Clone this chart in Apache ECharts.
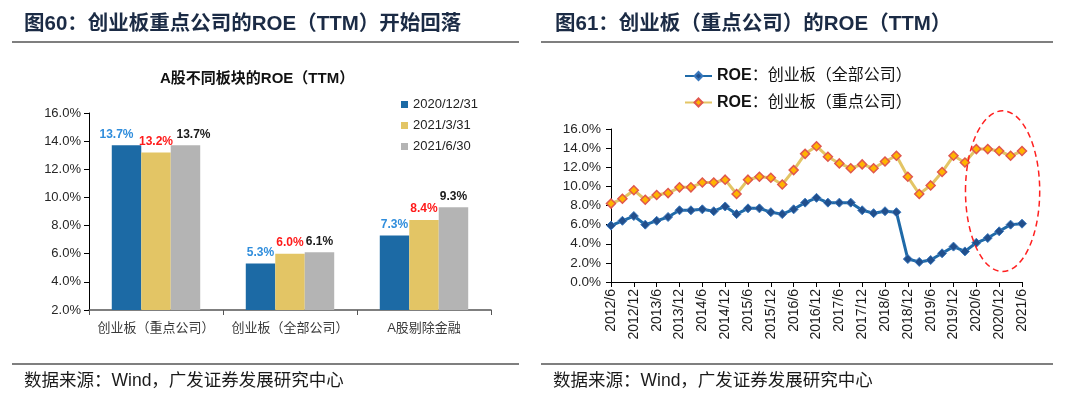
<!DOCTYPE html>
<html><head><meta charset="utf-8">
<script src="https://cdn.jsdelivr.net/npm/echarts@6/dist/echarts.min.js"></script>
<style>html,body{margin:0;padding:0;background:#fff}#c{width:1080px;height:396px}</style>
</head><body><div id="c"></div>
<script>
// ---- data: left bar chart ----
var barCategories = ['创业板（重点公司）', '创业板（全部公司）', 'A股剔除金融'];
var barSeriesNames = ['2020/12/31', '2021/3/31', '2021/6/30'];
var roe_2020_12_31 = [13.7, 5.3, 7.3];
var roe_2021_03_31 = [13.2, 6.0, 8.4];
var roe_2021_06_30 = [13.7, 6.1, 9.3];
var barYTicks = [2, 4, 6, 8, 10, 12, 14, 16];

// ---- data: right line chart ----
var quarters = ['2012/6','2012/9','2012/12','2013/3','2013/6','2013/9','2013/12','2014/3','2014/6','2014/9','2014/12',
  '2015/3','2015/6','2015/9','2015/12','2016/3','2016/6','2016/9','2016/12','2017/3','2017/6','2017/9','2017/12',
  '2018/3','2018/6','2018/9','2018/12','2019/3','2019/6','2019/9','2019/12','2020/3','2020/6','2020/9','2020/12',
  '2021/3','2021/6'];
var lineNameAll = 'ROE：创业板（全部公司）';
var lineNameKey = 'ROE：创业板（重点公司）';
var roeAll = [5.9,6.4,6.9,6.0,6.4,6.8,7.5,7.5,7.6,7.4,7.9,7.1,7.7,7.7,7.3,7.1,7.6,8.3,8.8,8.3,8.3,8.3,7.5,7.2,7.4,7.3,
  2.4,2.1,2.3,3.0,3.7,3.2,4.1,4.6,5.3,6.0,6.1];
var roeKey = [8.2,8.7,9.6,8.6,9.1,9.3,9.9,9.9,10.4,10.4,10.7,9.2,10.7,11.0,10.9,10.2,11.7,13.4,14.2,13.1,12.4,11.9,12.3,
  11.9,12.6,13.2,11.0,9.2,10.1,11.5,13.2,12.5,13.9,13.9,13.7,13.2,13.7];
var lineYTicks = [0, 2, 4, 6, 8, 10, 12, 14, 16];

var FONT = "'Liberation Sans','Noto Sans CJK SC',sans-serif";
var chart = echarts.init(document.getElementById('c'), null, {renderer: 'canvas'});

var barColors = ['#1c6aa5', '#e3c565', '#b4b4b4'];
var barLabelColors = ['#2f8ddc', '#ff1a1a', '#1a1a1a'];
var barLabelShift = [-10, 0, 8];
var barData = [roe_2020_12_31, roe_2021_03_31, roe_2021_06_30];

function pct(v) { return Number(v).toFixed(1) + '%'; }

var series = barData.map(function (arr, si) {
  return {
    type: 'bar', name: barSeriesNames[si], xAxisIndex: 0, yAxisIndex: 0,
    barGap: '0%', barCategoryGap: '34%',
    itemStyle: {color: barColors[si]},
    label: {show: true, position: 'top', distance: 5, fontFamily: FONT, fontSize: 12, fontWeight: 'bold',
      color: barLabelColors[si], formatter: function (p) { return pct(p.value); }},
    data: arr.map(function (v, i) {
      return i === 0 ? {value: v, label: {offset: [barLabelShift[si], 0]}} : v;
    })
  };
});

series.push({
  type: 'line', name: lineNameAll, xAxisIndex: 1, yAxisIndex: 1, data: roeAll,
  symbol: 'diamond', symbolSize: 9, showSymbol: true, showAllSymbol: true,
  lineStyle: {color: '#1f6aa8', width: 3},
  itemStyle: {color: '#214f8c', borderColor: '#3a78bd', borderWidth: 1},
  z: 3
});
series.push({
  type: 'line', name: lineNameKey, xAxisIndex: 1, yAxisIndex: 1, data: roeKey,
  symbol: 'diamond', symbolSize: 9, showSymbol: true, showAllSymbol: true,
  lineStyle: {color: '#e3c565', width: 3},
  itemStyle: {color: '#ffb400', borderColor: '#e0574d', borderWidth: 1.5},
  z: 2
});

var legendRich = {
  b: {fontFamily: FONT, fontSize: 16, fontWeight: 'bold', color: '#111'},
  n: {fontFamily: FONT, fontSize: 16, color: '#111'}
};
function legendFmt(name) { var p = name.split('：'); return '{b|' + p[0] + '}{n|：' + p[1] + '}'; }

var option = {
  animation: false,
  textStyle: {fontFamily: FONT},
  grid: [
    {left: 89, top: 113, width: 402, height: 197, outerBoundsMode: 'none'},
    {left: 611, top: 129, width: 411, height: 153, outerBoundsMode: 'none'}
  ],
  legend: [
    {data: barSeriesNames, orient: 'vertical', left: 401, top: 98, padding: 0, itemGap: 8,
      itemWidth: 7, itemHeight: 7, icon: 'rect',
      textStyle: {fontFamily: FONT, fontSize: 13, color: '#222'}},
    {data: [lineNameAll], left: 684, top: 68, padding: 0, itemWidth: 27, itemHeight: 10,
      formatter: legendFmt, textStyle: {rich: legendRich}},
    {data: [lineNameKey], left: 684, top: 94.5, padding: 0, itemWidth: 27, itemHeight: 10,
      formatter: legendFmt, textStyle: {rich: legendRich}}
  ],
  xAxis: [
    {type: 'category', gridIndex: 0, data: barCategories,
      axisLine: {lineStyle: {color: '#555', width: 1.5}},
      axisTick: {show: true, length: 5, lineStyle: {color: '#555'}},
      axisLabel: {interval: 0, fontFamily: FONT, fontSize: 13, color: '#3a3a3a', margin: 12}},
    {type: 'category', gridIndex: 1, data: quarters, boundaryGap: false,
      axisLine: {lineStyle: {color: '#000', width: 1}},
      axisTick: {show: true, interval: 1, length: 5, lineStyle: {color: '#000'}},
      axisLabel: {interval: 1, rotate: 90, fontFamily: FONT, fontSize: 14, color: '#1a1a1a', margin: 7}}
  ],
  yAxis: [
    {type: 'value', gridIndex: 0, min: barYTicks[0], max: barYTicks[barYTicks.length - 1], interval: 2,
      splitLine: {show: false},
      axisLine: {show: true, lineStyle: {color: '#000', width: 1}},
      axisTick: {show: true, length: 5, lineStyle: {color: '#000'}},
      axisLabel: {fontFamily: FONT, fontSize: 13, color: '#262626', margin: 8, formatter: pct}},
    {type: 'value', gridIndex: 1, min: lineYTicks[0], max: lineYTicks[lineYTicks.length - 1], interval: 2,
      splitLine: {show: false},
      axisLine: {show: true, lineStyle: {color: '#000', width: 1}},
      axisTick: {show: true, length: 5, lineStyle: {color: '#000'}},
      axisLabel: {fontFamily: FONT, fontSize: 13.5, color: '#262626', margin: 10, formatter: pct}}
  ],
  series: series
};
chart.setOption(option);

// annotation ellipse around the latest quarters, placed through the axes
var pA = chart.convertToPixel({xAxisIndex: 1, yAxisIndex: 1}, [34, 9.5]);
var pB = chart.convertToPixel({xAxisIndex: 1, yAxisIndex: 1}, [35, 9.5]);
var step = pB[0] - pA[0];
var cx = pA[0] + 0.3 * step;
var cy = pA[1];
var rx = 3.25 * step;
var ry = (chart.convertToPixel({yAxisIndex: 1}, 0) - chart.convertToPixel({yAxisIndex: 1}, 8.4));

var titleColor = '#1b2b45';
chart.setOption({
  graphic: [
    {type: 'text', left: 24, top: 14, style: {text: '图60：创业板重点公司的ROE（TTM）开始回落', font: 'bold 20.5px ' + FONT, fill: titleColor}},
    {type: 'text', left: 555, top: 14, style: {text: '图61：创业板（重点公司）的ROE（TTM）', font: 'bold 20.5px ' + FONT, fill: titleColor}},
    {type: 'line', shape: {x1: 12, y1: 42, x2: 519, y2: 42}, style: {stroke: '#555', lineWidth: 1.5}},
    {type: 'line', shape: {x1: 541, y1: 42, x2: 1053, y2: 42}, style: {stroke: '#555', lineWidth: 1.5}},
    {type: 'text', left: 160, top: 71, style: {text: 'A股不同板块的ROE（TTM）', font: 'bold 15px ' + FONT, fill: '#111'}},
    {type: 'line', shape: {x1: 12, y1: 364, x2: 519, y2: 364}, style: {stroke: '#555', lineWidth: 1.5}},
    {type: 'line', shape: {x1: 541, y1: 364, x2: 1053, y2: 364}, style: {stroke: '#555', lineWidth: 1.5}},
    {type: 'text', left: 24, top: 372, style: {text: '数据来源：Wind，广发证券发展研究中心', font: '17.5px ' + FONT, fill: '#1a1a1a'}},
    {type: 'text', left: 553, top: 372, style: {text: '数据来源：Wind，广发证券发展研究中心', font: '17.5px ' + FONT, fill: '#1a1a1a'}},
    {type: 'ellipse', id: 'ell', shape: {cx: cx, cy: cy, rx: rx, ry: ry}, z: 100,
      style: {fill: 'none', stroke: '#ff2020', lineWidth: 1.5, lineDash: [6, 4]}}
  ]
});
</script></body></html>
